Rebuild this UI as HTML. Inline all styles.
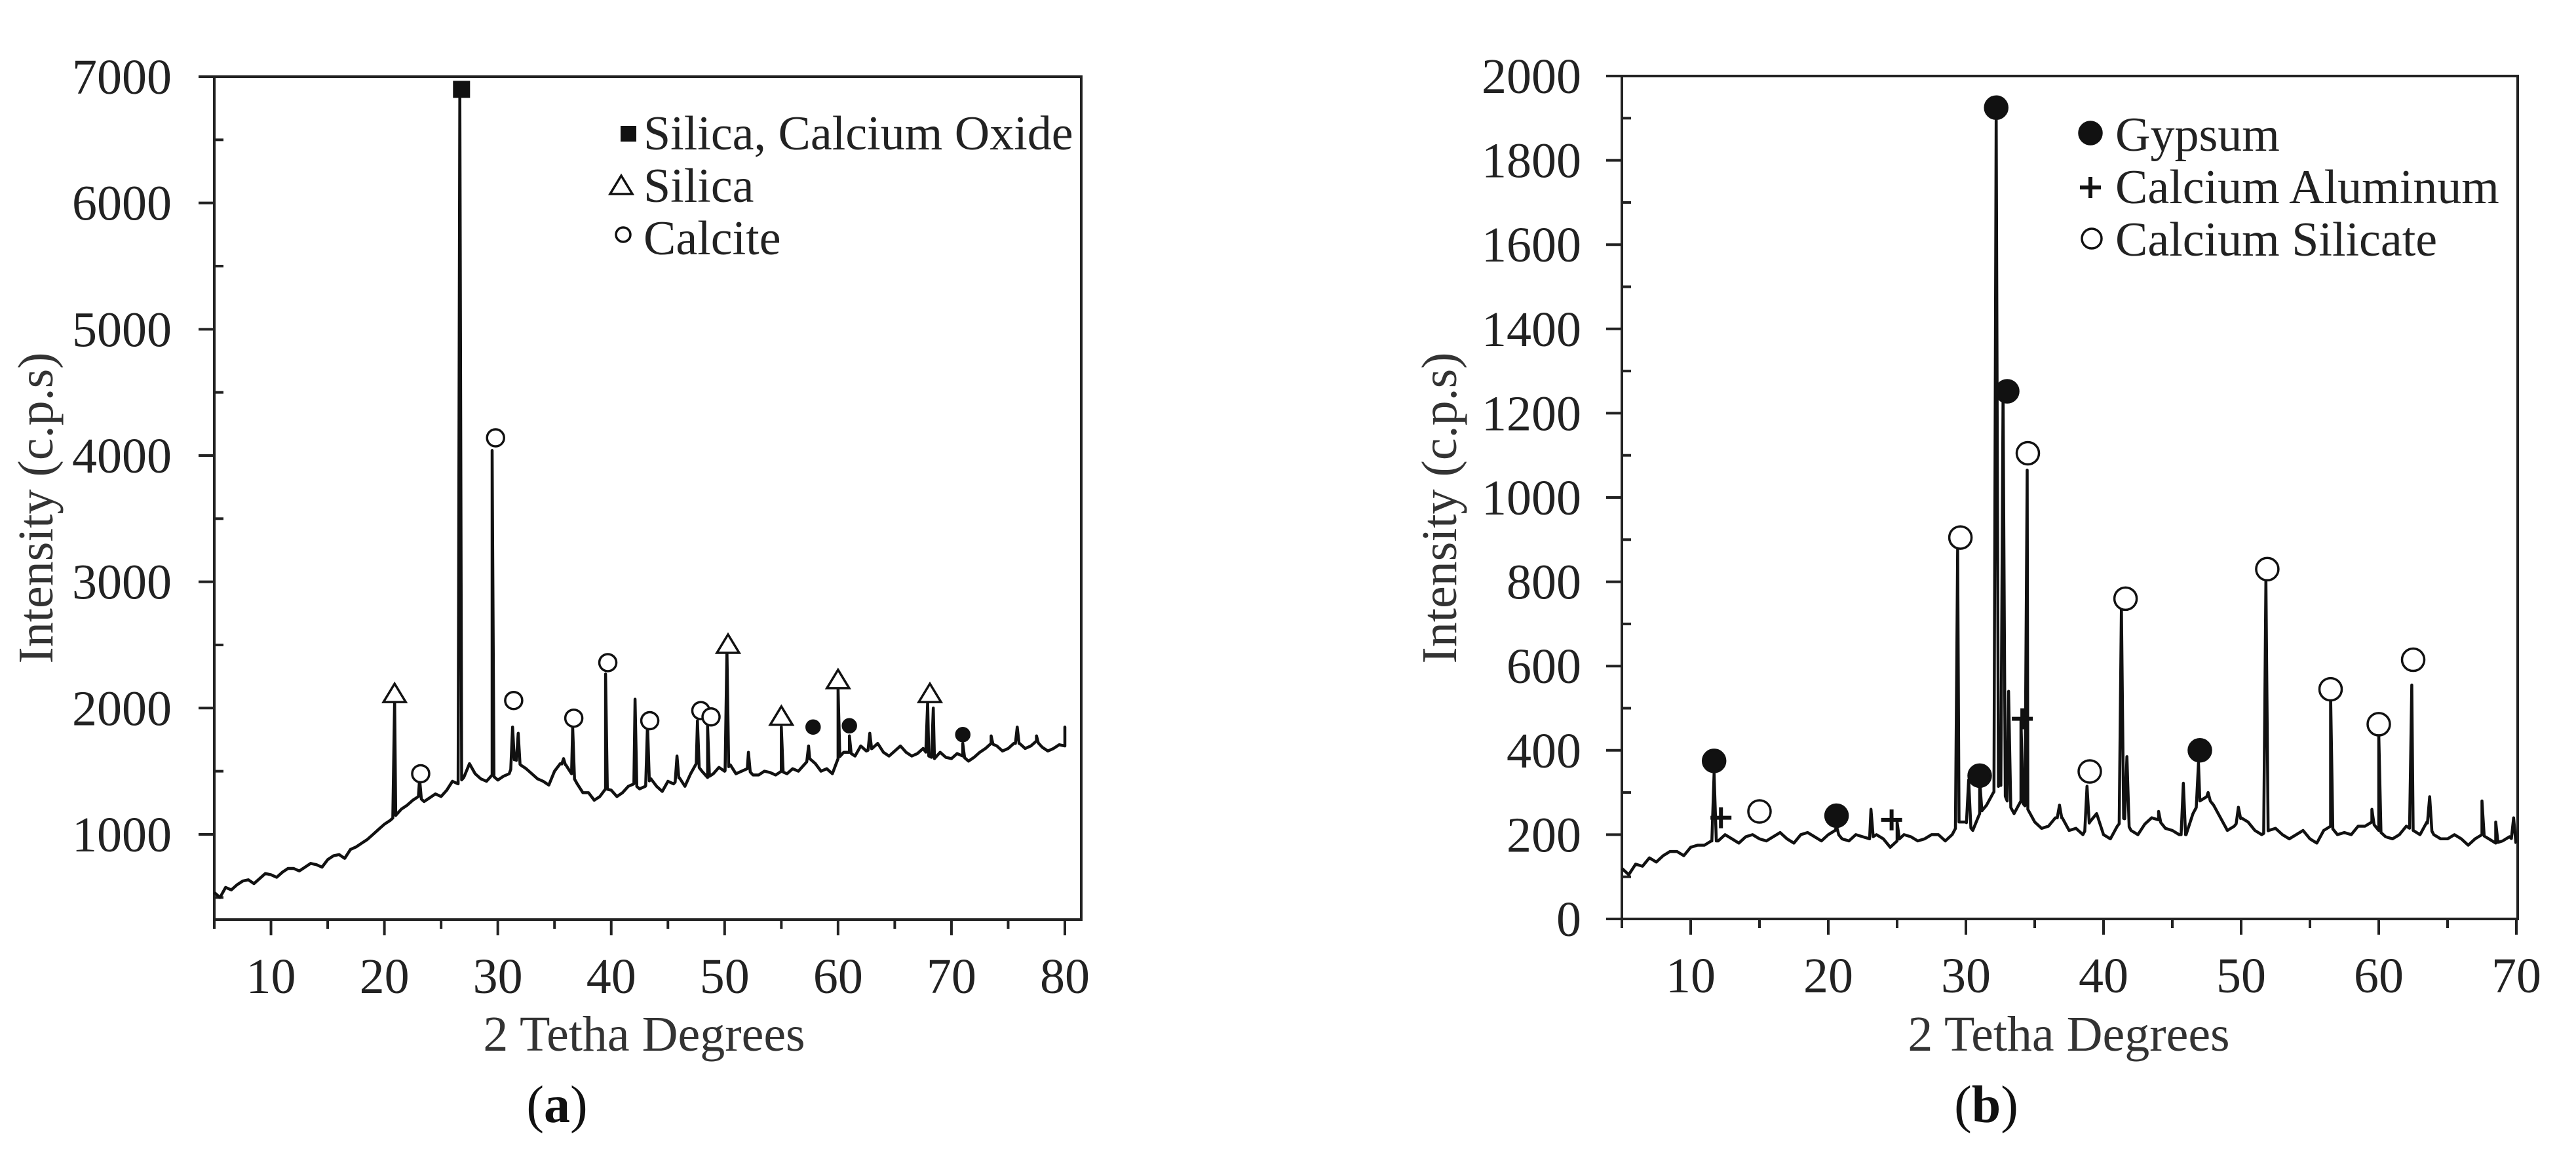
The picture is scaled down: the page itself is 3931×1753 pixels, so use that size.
<!DOCTYPE html>
<html><head><meta charset="utf-8"><style>
html,body{margin:0;padding:0;background:#fff;}
svg{display:block;font-family:"Liberation Serif",serif;}
</style></head><body>
<svg id="fig" width="3931" height="1753" viewBox="0 0 3931 1753" xmlns="http://www.w3.org/2000/svg"></svg>
<script>
// ---------- Chart (a) data ----------
const aBaseStart = 5, aBaseStep = 0.5;
const aBaseY = [540,500,580,560,600,630,640,610,650,690,680,660,700,730,730,710,740,770,760,740,800,830,840,810,880,900,930,960,1000,1040,1080,1110,1150,1200,1230,1270,1300,1260,1290,1320,1300,1350,1420,1400,1450,1560,1480,1440,1420,1470,1430,1460,1480,1600,1550,1520,1480,1440,1420,1390,1500,1560,1550,1480,1400,1330,1330,1270,1300,1360,1350,1300,1330,1380,1400,1360,1380,1440,1380,1340,1420,1400,1450,1380,1480,1560,1500,1450,1480,1530,1500,1550,1480,1500,1520,1470,1470,1500,1490,1470,1500,1480,1520,1500,1550,1600,1560,1500,1520,1480,1600,1650,1650,1620,1700,1660,1680,1720,1650,1620,1660,1700,1650,1620,1640,1680,1620,1600,1650,1610,1600,1640,1620,1580,1610,1650,1680,1720,1700,1660,1680,1720,1720,1680,1700,1740,1690,1660,1680,1710,1700];
const aPeakX = [20.9,23.1,26.65,29.5,31.3,31.8,35.8,36.6,39.5,42.1,43.2,45.8,47.6,48.5,50.2,52.1,55.0,57.4,60.0,61.0,62.8,67.9,68.4,71.0,73.5,75.8,77.5,80.0];
const aPeakY = [2060,1440,6880,4040,1850,1800,1600,1850,2270,2070,1870,1620,1900,1860,2460,1650,1850,1700,2150,1780,1800,2050,2000,1720,1780,1850,1780,1850];
const aSquareX = [26.8];
const aSquareY = [6900];
const aTriX = [20.9,50.3,55.0,60.0,68.1];
const aTriY = [2110,2500,1930,2220,2110];
const aCircX = [23.2,29.8,31.4,36.7,39.7,43.4,47.9,48.8];
const aCircY = [1480,4140,2060,1920,2360,1900,1980,1930];
const aDotX = [57.8,61.0,71.0];
const aDotY = [1850,1860,1790];
const aXTicks = [10,20,30,40,50,60,70,80];
const aYTicks = [1000,2000,3000,4000,5000,6000,7000];

// ---------- Chart (b) data ----------
const bBaseStart = 5, bBaseStep = 0.5;
const bBaseY = [120,105,130,125,145,135,150,160,160,150,170,175,175,185,185,200,190,180,195,200,190,185,195,205,190,180,200,205,195,185,200,210,190,185,200,195,190,200,190,170,185,200,195,185,190,200,200,185,200,230,230,210,250,270,300,320,280,250,280,260,230,215,220,240,240,210,215,200,230,250,200,190,220,240,210,200,225,240,235,215,210,200,200,250,280,290,270,240,210,220,240,230,210,200,210,215,200,190,200,210,190,180,210,220,200,205,200,220,220,230,210,195,190,200,220,210,200,230,200,190,190,200,190,175,190,200,190,180,185,195,180];
const bPeakX = [11.7,20.6,23.1,25.0,29.4,30.2,31.0,32.2,32.7,33.1,34.0,34.45,36.8,38.8,41.3,41.7,44.0,45.8,46.9,47.6,49.8,51.8,56.5,59.5,60.0,62.4,63.7,67.5,68.5,69.8];
const bPeakY = [345,220,260,230,880,330,330,1918,1250,540,470,1065,270,315,745,385,255,322,370,300,265,805,535,260,440,555,290,280,230,240];
const bDotX = [11.7,20.6,31.0,32.2,33.0,47.0];
const bDotY = [375,245,340,1925,1252,400];
const bPlusX = [12.2,24.6,34.1];
const bPlusY = [240,235,475];
const bCircX = [15.0,29.6,34.5,39.0,41.6,51.9,56.5,60.0,62.5];
const bCircY = [255,905,1105,350,760,830,545,462,615];
const bXTicks = [10,20,30,40,50,60,70];
const bYTicks = [0,200,400,600,800,1000,1200,1400,1600,1800,2000];

const NS = "http://www.w3.org/2000/svg";
const svg = document.getElementById('fig');
function mk(tag, attrs, parent){
  const e = document.createElementNS(NS, tag);
  for (const k in attrs) e.setAttribute(k, attrs[k]);
  (parent||svg).appendChild(e);
  return e;
}
function txt(str, attrs, parent){ const t = mk('text', attrs, parent); t.textContent = str; return t; }

function drawChart(cfg){
  const g = mk('g', {});
  
  
  const X = v => cfg.x0 + (v - cfg.xmin) * (cfg.x1 - cfg.x0) / (cfg.xmax - cfg.xmin);
  const Y = v => cfg.y1 - (v - cfg.ymin) * (cfg.y1 - cfg.y0) / (cfg.ymax - cfg.ymin);
  const fr = mk('rect', {x:cfg.x0, y:cfg.y0, width:cfg.fr - cfg.x0, height:cfg.y1 - cfg.y0, fill:'none', stroke:'#222', 'stroke-width':4}, g);
  
  
  for (let v = cfg.xmin; v <= cfg.xmax + 0.01; v += 5){
    const major = Math.round(v) % 10 === 0;
    const tk = mk('line', {x1:X(v), x2:X(v), y1:cfg.y1, y2:cfg.y1 + (major?24:14), stroke:'#222', 'stroke-width':4}, g);
    
    
  }
  cfg.xTicks.forEach(v => {
    const t = txt(String(v), {x:X(v), y:cfg.y1 + 112, 'font-size':76, 'text-anchor':'middle', fill:'#222'}, g);
    
    
  });
  for (let v = cfg.yTickStart; v <= cfg.ymax + 0.01; v += cfg.yMinor){
    const major = cfg.yTicks.indexOf(Math.round(v)) >= 0;
    const tk = mk('line', {x1: major ? cfg.x0 - 24 : cfg.x0, x2: major ? cfg.x0 : cfg.x0 + 14, y1:Y(v), y2:Y(v), stroke:'#222', 'stroke-width':4}, g);
    
    
  }
  cfg.yTicks.forEach(v => {
    const t = txt(String(v), {x:cfg.ylabR, y:Y(v) + 26, 'font-size':76, 'text-anchor':'end', fill:'#222'}, g);
    
    
  });
  const xt = txt('2 Tetha Degrees', {x:cfg.xTitleX, y:1603, 'font-size':76, 'text-anchor':'middle', fill:'#333'}, g);
  
  
  const yt = txt('Intensity (c.p.s)', {x:0, y:0, 'font-size':76, 'text-anchor':'middle', fill:'#333', transform:`translate(${cfg.yTitleX},775) rotate(-90)`}, g);
  
  
  const pl = txt('', {x:cfg.panelX, y:1712, 'font-size':80, 'text-anchor':'middle', fill:'#111'}, g);
  
  
  const s1 = mk('tspan', {}, pl); s1.textContent = '(';
  const s2 = mk('tspan', {'font-weight':'bold'}, pl); s2.textContent = cfg.panel;
  const s3 = mk('tspan', {}, pl); s3.textContent = ')';
  // series
  const bx = cfg.baseY.map((_, i) => cfg.baseStart + i * cfg.baseStep);
  const by = cfg.baseY;
  const base = v => {
    if (v <= bx[0]) return by[0];
    for (let i = 1; i < bx.length; i++) if (v <= bx[i]) { const f = (v - bx[i-1])/(bx[i]-bx[i-1]); return by[i-1] + f*(by[i]-by[i-1]); }
    return by[by.length-1];
  };
  const pts = [];
  bx.forEach((x,i) => pts.push([x, by[i]]));
  const w = 0.16;
  cfg.peakX.forEach((x,i) => {
    const l = Math.max(cfg.xmin, x - w), r = Math.min(bx[bx.length-1], x + w);
    pts.push([l, base(l)]); pts.push([x, cfg.peakY[i]]); pts.push([r, base(r)]);
  });
  pts.sort((a,b) => a[0]-b[0]);
  const d = pts.map((p,i) => (i?'L':'M') + X(p[0]).toFixed(1) + ' ' + Y(p[1]).toFixed(1)).join(' ');
  const path = mk('path', {d, fill:'none', stroke:'#111', 'stroke-width':4.5, 'stroke-linejoin':'round'}, g);
  
  
  cfg.markers(g, X, Y);
  cfg.legend(g);
}

function circ(g, cx, cy, r, filled, name){
  const c = mk('circle', {cx, cy, r, fill: filled ? '#111' : '#fff', stroke:'#111', 'stroke-width':3.5}, g);
  
  
}
function tri(g, cx, by, name){
  const p = mk('polygon', {points:`${cx-17},${by} ${cx+17},${by} ${cx},${by-28}`, fill:'#fff', stroke:'#111', 'stroke-width':3.5}, g);
  
  
}
function sq(g, cx, cy, s, name){
  const r = mk('rect', {x:cx-s/2, y:cy-s/2, width:s, height:s, fill:'#111'}, g);
  
  
}
function plus(g, cx, cy, name){
  const p = mk('path', {d:`M${cx-16} ${cy} H${cx+16} M${cx} ${cy-16} V${cy+16}`, stroke:'#111', 'stroke-width':6}, g);
  
  
}
function legText(g, s, x, y){
  const t = txt(s, {x, y, 'font-size':74, fill:'#222'}, g);
  
  
}

drawChart({
  name:'chart-a', panel:'a', panelX:850,
  x0:327, x1:1625, fr:1650, xmin:5, xmax:80, y0:117, y1:1403, ymin:325, ymax:7000,
  xTicks:aXTicks, yTicks:aYTicks, yTickStart:500, yMinor:500, ylabR:262,
  xTitleX:983, yTitleX:80,
  baseStart:aBaseStart, baseStep:aBaseStep, baseY:aBaseY, peakX:aPeakX, peakY:aPeakY,
  markers:(g,X,Y)=>{
    aSquareX.forEach((x,i)=>sq(g, X(x), Y(aSquareY[i]), 26, 'marker-silica-calcium-oxide'));
    aTriX.forEach((x,i)=>tri(g, X(x), Y(aTriY[i]) + 12, 'marker-silica'));
    aCircX.forEach((x,i)=>circ(g, X(x), Y(aCircY[i]), 13, false, 'marker-calcite'));
    aDotX.forEach((x,i)=>circ(g, X(x), Y(aDotY[i]), 10, true, 'marker-dot'));
  },
  legend:(g)=>{
    sq(g, 959, 204, 24, 'legend-square');
    legText(g, 'Silica, Calcium Oxide', 982, 228);
    tri(g, 948, 296, 'legend-triangle');
    legText(g, 'Silica', 982, 308);
    circ(g, 951, 358, 11, false, 'legend-circle');
    legText(g, 'Calcite', 982, 388);
  }
});

drawChart({
  name:'chart-b', panel:'b', panelX:3031,
  x0:2475, x1:3840, fr:3842, xmin:5, xmax:70, y0:116, y1:1402, ymin:0, ymax:2000,
  xTicks:bXTicks, yTicks:bYTicks, yTickStart:0, yMinor:100, ylabR:2413,
  xTitleX:3157, yTitleX:2222,
  baseStart:bBaseStart, baseStep:bBaseStep, baseY:bBaseY, peakX:bPeakX, peakY:bPeakY,
  markers:(g,X,Y)=>{
    bDotX.forEach((x,i)=>circ(g, X(x), Y(bDotY[i]), 17, true, 'marker-gypsum'));
    bPlusX.forEach((x,i)=>plus(g, X(x), Y(bPlusY[i]), 'marker-calcium-aluminum'));
    bCircX.forEach((x,i)=>circ(g, X(x), Y(bCircY[i]), 17, false, 'marker-calcium-silicate'));
  },
  legend:(g)=>{
    circ(g, 3190, 203, 17, true, 'legend-gypsum-marker');
    legText(g, 'Gypsum', 3228, 230);
    plus(g, 3190, 286, 'legend-plus-marker');
    legText(g, 'Calcium Aluminum', 3228, 310);
    circ(g, 3192, 364, 15, false, 'legend-silicate-marker');
    legText(g, 'Calcium Silicate', 3228, 390);
  }
});
</script>
</body></html>
